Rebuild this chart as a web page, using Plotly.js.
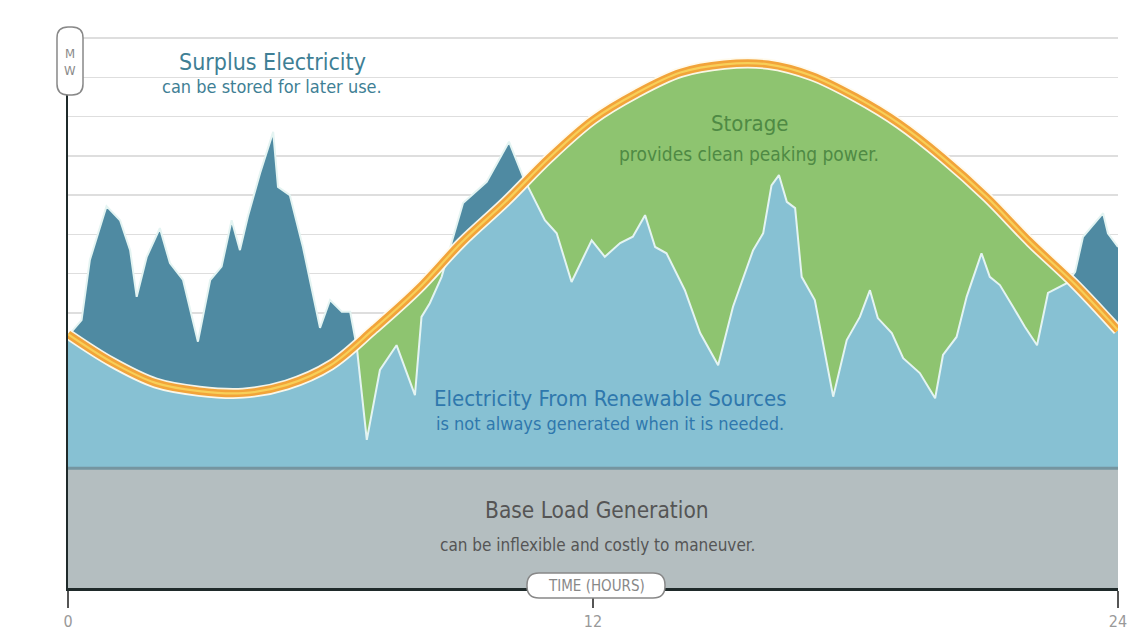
<!DOCTYPE html>
<html>
<head>
<meta charset="utf-8">
<script src="https://cdn.plot.ly/plotly-3.0.1.min.js"></script>
<style>
html,body{margin:0;padding:0;background:#fff;}
#chart{width:1134px;height:642px;}
</style>
</head>
<body>
<div id="chart"></div>
<script>
// ---- data (hours, MW in grid units) ----
const hours = [0,1,2,3,4,5,6,7,8,9,10,11,12,13,14,15,16,17,18,19,20,21,22,23,24];
const demand = [6.46,5.75,5.22,5.01,4.96,5.17,5.67,6.60,7.61,8.80,9.83,10.95,11.92,12.60,13.12,13.33,13.33,13.04,12.50,11.82,10.95,9.95,8.80,7.75,6.56];

const renewHours = [0,0.08,0.31,0.50,0.88,1.19,1.42,1.57,1.80,2.10,2.33,2.63,2.97,3.25,3.51,3.74,3.93,4.11,4.39,4.69,4.80,5.07,5.37,5.76,5.99,6.26,6.45,6.60,6.83,7.13,7.51,7.93,8.08,8.27,8.54,9.03,9.57,10.08,10.40,10.90,11.17,11.51,11.97,12.27,12.62,12.91,13.19,13.42,13.68,14.10,14.45,14.86,15.20,15.66,15.89,16.08,16.25,16.43,16.62,16.77,17.07,17.49,17.80,18.10,18.33,18.51,18.83,19.09,19.47,19.82,20.00,20.31,20.54,20.88,21.07,21.30,21.60,21.87,22.15,22.40,22.83,23.02,23.20,23.66,23.77,24];
const renewMW = [6.46,6.52,6.82,8.35,9.72,9.36,8.60,7.41,8.43,9.16,8.27,7.84,6.27,7.84,8.18,9.36,8.60,9.45,10.56,11.61,10.21,10.00,8.68,6.62,7.33,7.03,7.03,6.14,3.77,5.55,6.18,4.91,6.90,7.25,7.92,9.80,10.34,11.36,10.47,9.36,9.03,7.79,8.85,8.43,8.78,8.94,9.49,8.68,8.52,7.58,6.49,5.67,7.16,8.60,9.03,10.25,10.51,9.83,9.67,7.92,7.33,4.87,6.31,6.90,7.58,6.87,6.49,5.85,5.47,4.83,5.93,6.39,7.41,8.52,7.92,7.71,7.16,6.65,6.18,7.51,7.76,8.05,8.94,9.54,9.03,8.68];

const baseLoad = 3.05;
const xTickVals = [0,12,24];
const xTickText = ['0','12','24'];
const gridVals = [1,2,3,4,5,6,7,8,9,10,11,12,13,14];

// ---- derived: renewable power actually used = min(renewable, demand) ----
function interp(xs, ys, x){
  for(let i=0;i<xs.length-1;i++){
    if(x>=xs[i] && x<=xs[i+1]){
      const t=(x-xs[i])/(xs[i+1]-xs[i]);
      return ys[i]+t*(ys[i+1]-ys[i]);
    }
  }
  return ys[ys.length-1];
}
const xu = Array.from(new Set(hours.concat(renewHours))).sort((a,b)=>a-b);
const usedX=[], usedY=[];
let prev=null;
xu.forEach(x=>{
  const d=interp(hours,demand,x), r=interp(renewHours,renewMW,x);
  const diff=r-d;
  if(prev && prev.diff*diff<0){
    const t=prev.diff/(prev.diff-diff);
    const xc=prev.x+t*(x-prev.x);
    usedX.push(xc); usedY.push(interp(hours,demand,xc));
  }
  usedX.push(x); usedY.push(Math.min(r,d));
  prev={x,diff};
});

// ---- layout helpers (pixel -> paper) ----
const L=68, R=1118, T=36, B=588;
const px=x=>(x-L)/(R-L);
const py=y=>(B-y)/(B-T);
function roundRect(x0,y0,x1,y1,r){
  const P=(x,y)=>px(x).toFixed(5)+','+py(y).toFixed(5);
  return 'M'+P(x0+r,y0)+' L'+P(x1-r,y0)+' Q'+P(x1,y0)+' '+P(x1,y0+r)+
    ' L'+P(x1,y1-r)+' Q'+P(x1,y1)+' '+P(x1-r,y1)+
    ' L'+P(x0+r,y1)+' Q'+P(x0,y1)+' '+P(x0,y1-r)+
    ' L'+P(x0,y0+r)+' Q'+P(x0,y0)+' '+P(x0+r,y0)+' Z';
}
const FONT="'Liberation Sans Narrow','DejaVu Sans Condensed','Liberation Sans',sans-serif";
function txt(x,y,text,size,color){
  return {xref:'paper',yref:'paper',x:px(x),y:py(y),xanchor:'center',yanchor:'middle',
    text:text,showarrow:false,font:{family:FONT,size:size,color:color}};
}

const traces=[
  {x:renewHours,y:renewMW,type:'scatter',mode:'lines',fill:'tozeroy',fillcolor:'#4f8aa2',line:{width:0},hoverinfo:'skip',showlegend:false},
  {x:hours,y:demand,type:'scatter',mode:'lines',fill:'tozeroy',fillcolor:'#8ec470',line:{width:0},hoverinfo:'skip',showlegend:false},
  {x:usedX,y:usedY,type:'scatter',mode:'lines',fill:'tozeroy',fillcolor:'#87c1d3',line:{width:0},hoverinfo:'skip',showlegend:false},
  {x:renewHours,y:renewMW,type:'scatter',mode:'lines',line:{color:'#e4f4f2',width:2},hoverinfo:'skip',showlegend:false},
  {x:hours,y:demand,type:'scatter',mode:'lines',line:{color:'rgba(255,250,235,0.95)',width:11,shape:'spline'},hoverinfo:'skip',showlegend:false},
  {x:hours,y:demand,type:'scatter',mode:'lines',line:{color:'#f2a43a',width:7.5,shape:'spline'},hoverinfo:'skip',showlegend:false},
  {x:hours,y:demand,type:'scatter',mode:'lines',line:{color:'#f8cf58',width:2.2,shape:'spline'},hoverinfo:'skip',showlegend:false},
  {x:[0,24],y:[baseLoad,baseLoad],type:'scatter',mode:'lines',fill:'tozeroy',fillcolor:'#b4bec0',line:{color:'#7595a0',width:3},hoverinfo:'skip',showlegend:false}
];

const layout={
  width:1134,height:642,
  margin:{l:L,r:1134-R,t:T,b:642-B},
  paper_bgcolor:'#ffffff',plot_bgcolor:'#ffffff',
  showlegend:false,
  xaxis:{range:[0,24],showgrid:false,zeroline:false,showline:true,linecolor:'#1f2a2a',linewidth:2.5,
    tickvals:xTickVals,ticktext:xTickText,ticks:'outside',ticklen:17,tickwidth:1.5,tickcolor:'#555',
    tickfont:{family:FONT,size:16,color:'#999'}},
  yaxis:{range:[0,14.05],showgrid:true,gridcolor:'#dedede',gridwidth:1.5,tickvals:gridVals,
    showticklabels:false,ticks:'',zeroline:false,showline:true,linecolor:'#1f2a2a',linewidth:2.5},
  shapes:[
    {type:'path',xref:'paper',yref:'paper',path:roundRect(57,27,83,95,11),fillcolor:'#ffffff',line:{color:'#888',width:1.5},layer:'above'},
    {type:'path',xref:'paper',yref:'paper',path:roundRect(527,573,665,598,12),fillcolor:'#ffffff',line:{color:'#888',width:1.5},layer:'above'}
  ],
  annotations:[
    txt(70,53,'M',13,'#8a8a8a'),
    txt(70,71,'W',13,'#8a8a8a'),
    txt(596,586,'TIME (HOURS)',15,'#888'),
    txt(272,62,'Surplus Electricity',23,'#3f7f95'),
    txt(272,87,'can be stored for later use.',18,'#3f7f95'),
    txt(749,123,'Storage',22,'#4f8a44'),
    txt(749,154,'provides clean peaking power.',19,'#4f8a44'),
    txt(610,399,'Electricity From Renewable Sources',22,'#2f78ad'),
    txt(610,423,'is not always generated when it is needed.',18,'#2f78ad'),
    txt(597,510,'Base Load Generation',22.5,'#555'),
    txt(597,545,'can be inflexible and costly to maneuver.',17,'#555')
  ]
};
Plotly.newPlot('chart',traces,layout,{displayModeBar:false,staticPlot:true});
</script>
</body>
</html>
